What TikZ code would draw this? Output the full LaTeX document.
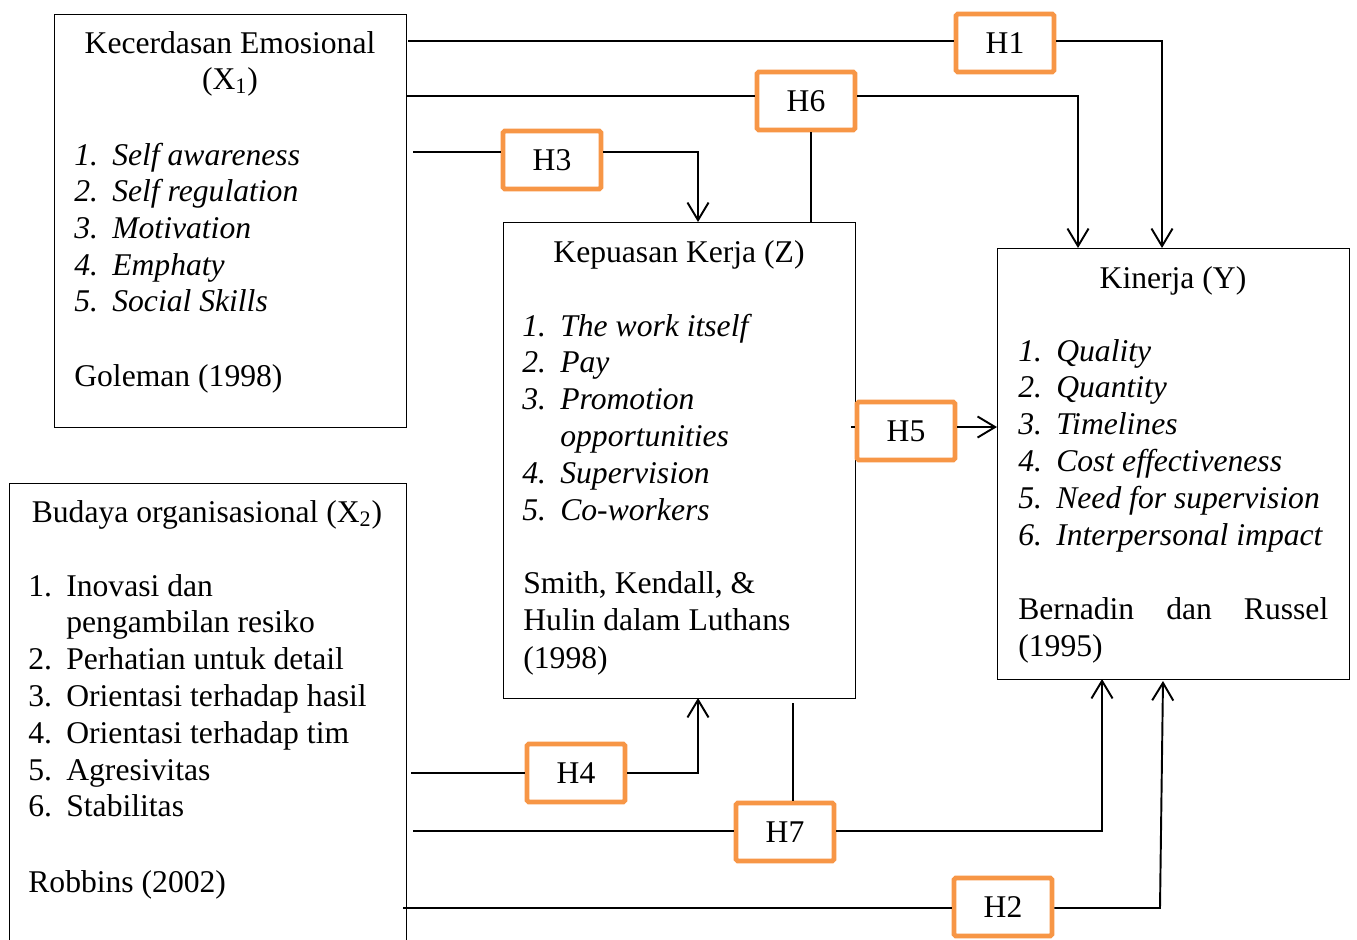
\documentclass[tikz,border=0pt]{standalone}
\usepackage{fontspec}
\setmainfont{Liberation Serif}
\usetikzlibrary{arrows.meta}
\definecolor{hyporange}{HTML}{F79646}
\newcommand{\itm}[2]{\makebox[0.76cm][l]{#1}#2}
\tikzset{
  varbox/.style={draw, line width=0.6pt, anchor=north west, inner sep=0pt},
  hyp/.style={draw=hyporange, line width=2.7pt, rounded corners=1pt, fill=white,
    minimum width=1.96cm, minimum height=1.16cm, font=\fontsize{18}{21}\selectfont},
  txt/.style={anchor=base west, inner sep=0pt, font=\fontsize{18}{21}\selectfont},
  itxt/.style={txt, font=\fontsize{18}{21}\selectfont\itshape},
  ttl/.style={anchor=base, inner sep=0pt, font=\fontsize{18}{21}\selectfont},
  link/.style={line width=1.1pt},
  arr/.style={line width=1.1pt, -{Straight Barb[length=10pt,width=12pt]}}
}
\begin{document}
\begin{tikzpicture}[x=0.02cm,y=-0.02cm]
\clip (0,0) rectangle (1357,940);
\fill[white] (0,0) rectangle (1357,940);
% variable boxes
\node[varbox, minimum width=7.04cm, minimum height=8.26cm] (x1) at (54,14) {};
\node[varbox, minimum width=7.94cm, minimum height=9.54cm] (x2) at (9,483) {};
\node[varbox, minimum width=7.04cm, minimum height=9.52cm] (z) at (503,222) {};
\node[varbox, minimum width=7.04cm, minimum height=8.62cm] (y) at (997,248) {};
% X1
\node[ttl] (x1t) at (230,53) {Kecerdasan Emosional};
\node[ttl] (x1s) at (230,89) {(X\textsubscript{1})};
\foreach \n/\t [count=\i] in {1./Self awareness, 2./Self regulation, 3./Motivation,
    4./Emphaty, 5./Social Skills}
  \node[itxt] (x1i\i) at (74,{165+36.7*(\i-1)}) {\itm{\n}{\t}};
\node[txt] (x1r) at (74,386) {Goleman (1998)};
% X2
\node[ttl] (x2t) at (207,522) {Budaya organisasional (X\textsubscript{2})};
\foreach \n/\t [count=\i] in {1./Inovasi dan, /pengambilan resiko, 2./Perhatian untuk detail,
    3./Orientasi terhadap hasil, 4./Orientasi terhadap tim, 5./Agresivitas, 6./Stabilitas}
  \node[txt] (x2i\i) at (28,{596+36.8*(\i-1)}) {\itm{\n}{\t}};
\node[txt] (x2r) at (28,892) {Robbins (2002)};
% Z
\node[ttl] (zt) at (679,262) {Kepuasan Kerja (Z)};
\foreach \n/\t [count=\i] in {1./The work itself, 2./Pay, 3./Promotion, /opportunities,
    4./Supervision, 5./Co-workers}
  \node[itxt] (zi\i) at (522,{336+36.8*(\i-1)}) {\itm{\n}{\t}};
\node[txt] (zr1) at (523,593) {Smith, Kendall, \&};
\node[txt] (zr2) at (523,630) {Hulin dalam Luthans};
\node[txt] (zr3) at (523,668) {(1998)};
% Y
\node[ttl] (yt) at (1173,288) {Kinerja (Y)};
\foreach \n/\t [count=\i] in {1./Quality, 2./Quantity, 3./Timelines, 4./Cost effectiveness,
    5./Need for supervision, 6./Interpersonal impact}
  \node[itxt] (yi\i) at (1018,{361+36.8*(\i-1)}) {\itm{\n}{\t}};
\node[txt] (yr1) at (1018,619) {\makebox[6.2cm][s]{Bernadin dan Russel}};
\node[txt] (yr2) at (1018,656) {(1995)};
% hypotheses
\node[hyp] (h1) at (1005,43) {H1};
\node[hyp] (h6) at (806,101) {H6};
\node[hyp] (h3) at (552,160) {H3};
\node[hyp] (h5) at (906,431) {H5};
\node[hyp] (h4) at (576,773) {H4};
\node[hyp] (h7) at (785,832) {H7};
\node[hyp] (h2) at (1003,907) {H2};
% line ends
\coordinate (a1) at (408,41);
\coordinate (y1) at (1162,248);
\coordinate (a6) at (406,96);
\coordinate (y6) at (1078,248);
\coordinate (z6) at (811,222);
\coordinate (a3) at (413,152);
\coordinate (z3) at (698,222);
\coordinate (a5) at (851,427);
\coordinate (y5) at (997,427);
\coordinate (a4) at (411,773);
\coordinate (z4) at (698,698);
\coordinate (a7) at (413,831);
\coordinate (y7) at (1102,679);
\coordinate (z7) at (793,703);
\coordinate (a2) at (403,908);
\coordinate (b2) at (1160,908);
\coordinate (y2) at (1163,681);
% H1
\draw[link] (a1) -- (a1 -| h1.west);
\draw[arr] (a1 -| h1.east) -| (y1);
% H6
\draw[link] (a6) -- (a6 -| h6.west);
\draw[arr] (a6 -| h6.east) -| (y6);
\draw[line width=0.8pt] (z6 |- h6.south) -- (z6);
% H3
\draw[link] (a3) -- (a3 -| h3.west);
\draw[arr] (a3 -| h3.east) -| (z3);
% H5
\draw[link] (a5) -- (a5 -| h5.west);
\draw[arr] (a5 -| h5.east) -- (y5);
% H4
\draw[link] (a4) -- (a4 -| h4.west);
\draw[arr] (a4 -| h4.east) -| (z4);
% H7
\draw[link] (a7) -- (a7 -| h7.west);
\draw[arr] (a7 -| h7.east) -| (y7);
\draw[line width=0.8pt] (z7) -- (z7 |- h7.north);
% H2
\draw[link] (a2) -- (a2 -| h2.west);
\draw[arr] (a2 -| h2.east) -- (b2) -- (y2);
\end{tikzpicture}
\end{document}
